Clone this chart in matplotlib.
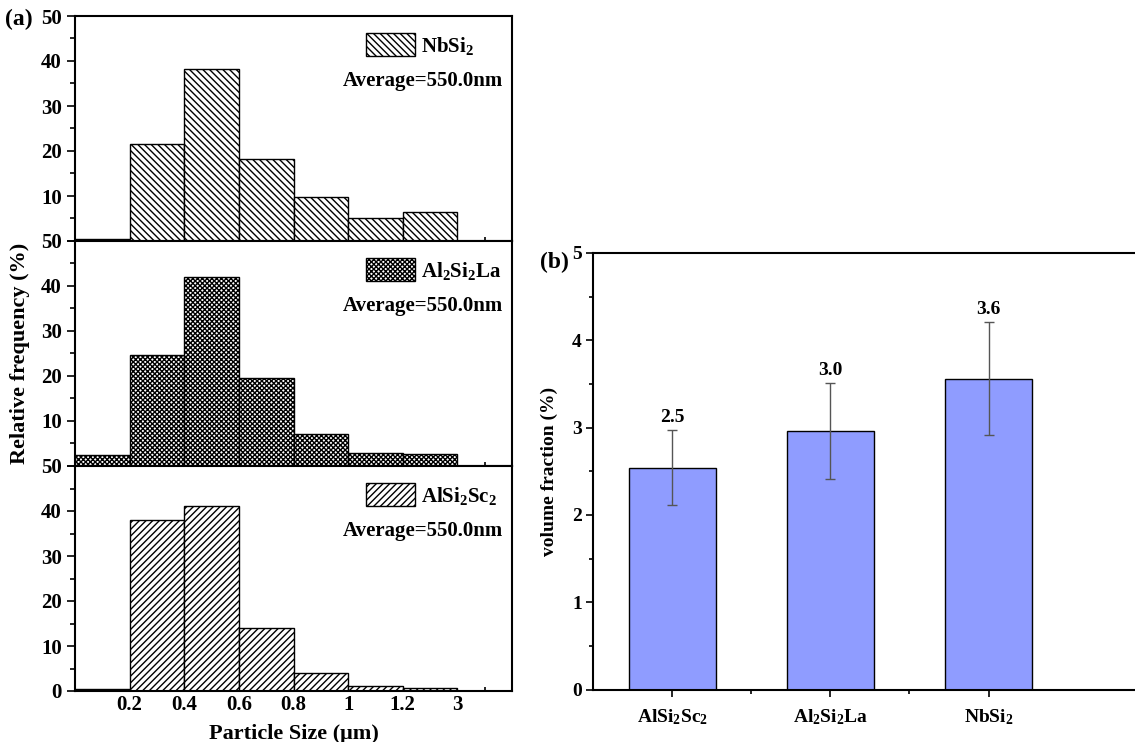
import matplotlib
matplotlib.use("Agg")
import matplotlib.pyplot as plt
from matplotlib.ticker import MultipleLocator, FixedLocator

plt.rcParams['font.family'] = 'Liberation Serif'
plt.rcParams['font.weight'] = 'bold'
plt.rcParams['mathtext.fontset'] = 'custom'
plt.rcParams['mathtext.rm'] = 'Liberation Serif:bold'
plt.rcParams['mathtext.it'] = 'Liberation Serif:bold'
plt.rcParams['mathtext.bf'] = 'Liberation Serif:bold'
plt.rcParams['mathtext.default'] = 'rm'
plt.rcParams['hatch.linewidth'] = 1.0

# ---- (a) particle size histograms ----
bin_left = [0.0, 0.2, 0.4, 0.6, 0.8, 1.0, 1.2]
bin_width = 0.2
size_ticks = [0.2, 0.4, 0.6, 0.8, 1.0, 1.2, 1.4]
size_tick_labels = ['0.2', '0.4', '0.6', '0.8', '1', '1.2', '3']

phases = ['NbSi$_2$', 'Al$_2$Si$_2$La', 'AlSi$_2$Sc$_2$']
hatches = ['\\' * 5, 'x' * 7, '/' * 5]
freq_nbsi2 = [0.5, 21.6, 38.2, 18.2, 9.7, 5.1, 6.5]
freq_al2si2la = [2.4, 24.6, 42.0, 19.5, 7.1, 2.9, 2.7]
freq_alsi2sc2 = [0.5, 37.9, 41.2, 13.9, 3.9, 1.1, 0.7]
freqs = [freq_nbsi2, freq_al2si2la, freq_alsi2sc2]
average_text = 'Average=550.0nm'

# ---- (b) volume fraction ----
vf_labels = ['AlSi$_2$Sc$_2$', 'Al$_2$Si$_2$La', 'NbSi$_2$']
vf_values = [2.54, 2.96, 3.56]
vf_errors = [0.43, 0.55, 0.65]

W, H = 1135, 742
fig = plt.figure(figsize=(W / 100, H / 100), dpi=100)

left_x0, left_x1 = 75 / W, 512 / W
panel_h = 225 / H
bottoms = [1 - 241 / H, 1 - 466 / H, 1 - 691 / H]

axes_a = []
for i in range(3):
    ax = fig.add_axes([left_x0, bottoms[i], left_x1 - left_x0, panel_h])
    axes_a.append(ax)
    ax.bar(bin_left, freqs[i], width=bin_width, align='edge', facecolor='white',
           edgecolor='black', linewidth=1.0, hatch=hatches[i], label=phases[i])
    ax.set_xlim(0, 1.6)
    ax.set_ylim(0, 50)
    ax.set_yticks([0, 10, 20, 30, 40, 50])
    if i < 2:
        ax.set_yticklabels(['', '10', '20', '30', '40', '50'])
    ax.yaxis.set_minor_locator(MultipleLocator(5))
    ax.set_xticks(size_ticks)
    if i == 2:
        ax.set_xticklabels(size_tick_labels)
    else:
        ax.set_xticklabels([])
    ax.xaxis.set_minor_locator(FixedLocator([1.5]))
    ax.tick_params(axis='x', which='major', length=0, labelsize=15, pad=3)
    ax.tick_params(axis='x', which='minor', direction='in', length=3, width=1.2)
    ax.tick_params(axis='y', which='major', direction='out', length=6, width=1.2, labelsize=15)
    ax.tick_params(axis='y', which='minor', direction='out', length=3.5, width=1.2)
    for s in ax.spines.values():
        s.set_linewidth(1.5)
    ax.legend(loc='upper left', bbox_to_anchor=(0.647, 0.96), borderaxespad=0,
              frameon=False, fontsize=15, handlelength=2.35, handleheight=1.3,
              handletextpad=0.3)
    ax.text(0.979, 0.71, average_text, transform=ax.transAxes, ha='right',
            va='center', fontsize=15, fontweight='bold')

axes_a[2].set_xlabel('Particle Size (\u03bcm)', fontsize=16, fontweight='bold', labelpad=6)
fig.text(20 / W, 1 - 353 / H, 'Relative frequency (%)', rotation=90, ha='center',
         va='center', fontsize=16, fontweight='bold')
fig.text(5 / W, 1 - 19 / H, '(a)', ha='left', va='center', fontsize=17, fontweight='bold')

# ---- (b) ----
bx0 = 593 / W
axb = fig.add_axes([bx0, 1 - 689.5 / H, 1.0 - bx0, (689.5 - 253) / H])
xpos = [1, 2, 3]
axb.bar(xpos, vf_values, width=0.55, color='#8f9cff', edgecolor='black', linewidth=1.0)
axb.errorbar(xpos, vf_values, yerr=vf_errors, fmt='none', ecolor='#555555',
             elinewidth=1.0, capsize=3.5, capthick=1.0)
for x, v, e in zip(xpos, vf_values, vf_errors):
    axb.annotate(f'{v:.1f}', (x, v + e), xytext=(0, 3), textcoords='offset points',
                 ha='center', va='bottom', fontsize=14, fontweight='bold')
axb.set_xlim(0.5, 0.5 + (W - 593) / 158.2)
axb.set_ylim(0, 5)
axb.set_xticks(xpos)
axb.set_xticklabels(vf_labels)
axb.xaxis.set_minor_locator(FixedLocator([1.5, 2.5]))
axb.yaxis.set_minor_locator(MultipleLocator(0.5))
axb.tick_params(axis='both', which='major', direction='out', length=5, width=1.2, labelsize=14)
axb.tick_params(axis='x', which='major', pad=8)
axb.tick_params(axis='y', which='major', pad=3)
axb.tick_params(axis='both', which='minor', direction='out', length=3, width=1.2)
axb.spines['right'].set_visible(False)
for s in ['left', 'top', 'bottom']:
    axb.spines[s].set_linewidth(1.5)
axb.set_ylabel('volume fraction (%)', fontsize=14, fontweight='bold', labelpad=10)
fig.text(540 / W, 1 - 262 / H, '(b)', ha='left', va='center', fontsize=17, fontweight='bold')

fig.savefig('out.png', dpi=100)
